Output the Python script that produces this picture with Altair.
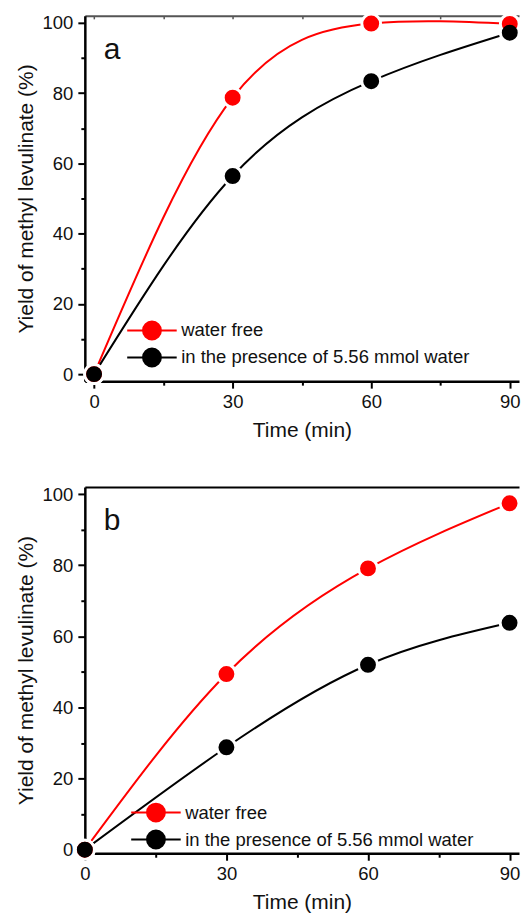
import altair as alt
import pandas as pd

# ---------------- data ----------------
time_min = [0, 30, 60, 90]
series_names = ["water free", "in the presence of 5.56 mmol water"]
series_colors = ["#ff0000", "#000000"]

a_water_free = [0, 78.7, 99.8, 99.7]
a_with_water = [0, 56.4, 83.4, 97.2]
b_water_free = [0, 49.4, 79.1, 97.4]
b_with_water = [0, 28.8, 52.0, 63.8]

x_tick_values = [0, 15, 30, 45, 60, 75, 90]
y_tick_values = [0, 10, 20, 30, 40, 50, 60, 70, 80, 90, 100]
panel_letters = ["a", "b"]


def make_frame(first, second):
    rows = []
    for name, vals in zip(series_names, [first, second]):
        for t, v in zip(time_min, vals):
            rows.append({"time": t, "yield": v, "series": name})
    return pd.DataFrame(rows)


FONT = "Liberation Sans"
W, H_A, H_B = 435, 366, 367

# legend symbol: horizontal line with a filled circle in the middle
SYMBOL_PATH = ("M -3.1 0 L 3.1 0 "
               "M 1.12 0 A 1.12 1.12 0 1 1 -1.12 0 A 1.12 1.12 0 1 1 1.12 0 Z")


def panel(df, letter, xdom, ydom, height, leg_x, leg_y, top_color, top_ticks):
    xs = alt.Scale(domain=xdom, nice=False, zero=False)
    ys = alt.Scale(domain=ydom, nice=False, zero=False)

    x_axis = alt.Axis(
        orient="bottom",
        values=x_tick_values,
        labelExpr="datum.value % 30 === 0 ? datum.label : ''",
        tickSize={"condition": {"test": "datum.value % 30 === 0", "value": 7}, "value": 4},
        tickWidth=2, domainWidth=2.5, grid=False,
        labelPadding=4, titlePadding=9, title="Time (min)",
        labelFlush=False, labelOverlap=False,
    )
    y_axis = alt.Axis(
        orient="left",
        values=y_tick_values,
        labelExpr="datum.value % 20 === 0 ? datum.label : ''",
        tickSize={"condition": {"test": "datum.value % 20 === 0", "value": 7}, "value": 4},
        tickWidth=2, domainWidth=2.5, grid=False,
        labelPadding=5, titlePadding=6, title="Yield of methyl levulinate (%)",
        labelFlush=False, labelOverlap=False,
    )
    top_axis = alt.Axis(
        orient="bottom", offset=-height, values=x_tick_values,
        labels=False, title=None, grid=False,
        ticks=top_ticks, tickSize=3, tickWidth=1.5, tickColor=top_color,
        domainColor=top_color, domainWidth=2,
    )

    legend = alt.Legend(
        title=None, orient="none", legendX=leg_x, legendY=leg_y,
        symbolType=SYMBOL_PATH, symbolSize=256, symbolStrokeWidth=2,
        symbolOpacity=1,
        labelFont=FONT, labelFontSize=18.5, labelColor="#111111",
        labelOffset=20, rowPadding=0, padding=0, labelLimit=500,
    )
    col_scale = alt.Scale(domain=series_names, range=series_colors)

    base = alt.Chart(df)
    lines = base.mark_line(interpolate="natural", strokeWidth=2).encode(
        x=alt.X("time:Q", scale=xs, axis=x_axis),
        y=alt.Y("yield:Q", scale=ys, axis=y_axis),
        stroke=alt.Stroke("series:N", sort=series_names, scale=col_scale, legend=legend),
    )
    halos = base.mark_circle(size=470, color="white", opacity=1).encode(
        x=alt.X("time:Q", scale=xs, axis=None),
        y=alt.Y("yield:Q", scale=ys, axis=y_axis),
    )
    points = base.mark_circle(size=254, opacity=1).encode(
        x=alt.X("time:Q", scale=xs, axis=None),
        y=alt.Y("yield:Q", scale=ys, axis=y_axis),
        fill=alt.Fill("series:N", sort=series_names, scale=col_scale, legend=legend),
    )
    top = base.mark_circle(opacity=0, size=1).encode(
        x=alt.X("time:Q", scale=xs, axis=top_axis),
        y=alt.Y("yield:Q", scale=ys, axis=y_axis),
    )
    label = alt.Chart(pd.DataFrame({"label": [letter]})).mark_text(
        font=FONT, fontSize=30, align="left", baseline="alphabetic", color="#111111"
    ).encode(x=alt.value(19), y=alt.value(43), text="label:N")

    return alt.layer(lines, halos, points, top, label).resolve_axis(
        x="independent").properties(width=W, height=height)


panel_a = panel(make_frame(a_water_free, a_with_water), panel_letters[0],
                [-2, 92], [-2, 102], H_A, 58, 306, "#555555", True)
panel_b = panel(make_frame(b_water_free, b_with_water), panel_letters[1],
                [0, 92], [-1, 102], H_B, 62, 317, "#000000", False)

chart = alt.vconcat(panel_a, panel_b, spacing=44).resolve_scale(
    fill="independent", stroke="independent"
).properties(
    padding={"left": 15, "top": 11, "right": 0, "bottom": 0},
    background="white",
).configure_view(stroke=None).configure_axis(
    labelFont=FONT, titleFont=FONT, labelFontSize=18.5, titleFontSize=21,
    titleFontWeight="normal", labelColor="#111111", titleColor="#111111",
    domainColor="#000000", tickColor="#000000",
)

chart.save("out.html", embed_options={"renderer": "svg", "actions": False})
